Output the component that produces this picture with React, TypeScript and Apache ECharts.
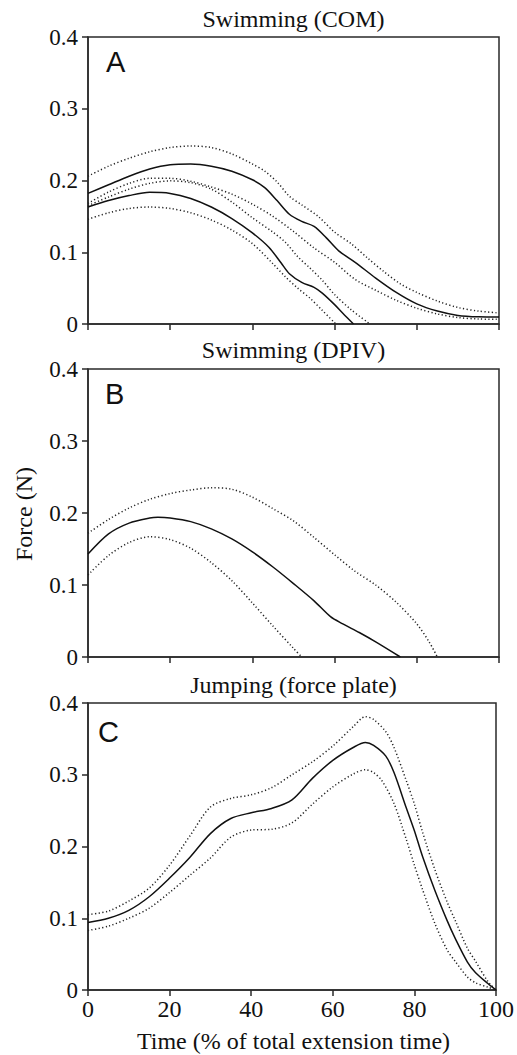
import React, { useEffect, useRef } from "react";
import * as echarts from "echarts";

// ---------- Panel A: Swimming (COM) ----------
const aMean1X = [0, 5, 10, 15, 20, 25, 30, 35, 40, 43, 46, 49, 52, 55, 58, 61, 65, 70, 75, 80, 85, 90, 95, 100];
const aMean1Y = [0.182, 0.194, 0.206, 0.216, 0.222, 0.223, 0.22, 0.213, 0.201, 0.19, 0.172, 0.153, 0.143, 0.136, 0.12, 0.102, 0.086, 0.064, 0.044, 0.028, 0.018, 0.012, 0.01, 0.0097];
const aUpper1X = [0, 5, 10, 15, 20, 25, 30, 35, 40, 43, 46, 49, 52, 56, 60, 64, 68, 72, 76, 80, 85, 90, 95, 100];
const aUpper1Y = [0.206, 0.22, 0.231, 0.24, 0.246, 0.248, 0.246, 0.237, 0.223, 0.213, 0.198, 0.178, 0.166, 0.15, 0.128, 0.112, 0.092, 0.073, 0.056, 0.044, 0.032, 0.023, 0.018, 0.0155];
const aLower1X = [0, 5, 10, 15, 20, 25, 30, 35, 40, 45, 50, 55, 60, 65, 70, 75, 80, 85, 90, 95, 100];
const aLower1Y = [0.168, 0.184, 0.196, 0.203, 0.203, 0.199, 0.191, 0.181, 0.167, 0.15, 0.129, 0.106, 0.086, 0.062, 0.047, 0.033, 0.022, 0.014, 0.009, 0.007, 0.0065];
const aMean2X = [0, 5, 10, 15, 20, 25, 30, 35, 40, 44, 47, 49, 52, 55, 57, 60, 62, 64.6];
const aMean2Y = [0.163, 0.172, 0.179, 0.1835, 0.182, 0.175, 0.163, 0.147, 0.127, 0.107, 0.085, 0.07, 0.058, 0.051, 0.043, 0.027, 0.015, 0];
const aUpper2X = [0, 5, 10, 15, 20, 25, 30, 35, 40, 45, 48, 51, 54, 57, 60, 64, 68.6];
const aUpper2Y = [0.165, 0.177, 0.188, 0.196, 0.1995, 0.197, 0.188, 0.17, 0.148, 0.128, 0.114, 0.094, 0.078, 0.061, 0.041, 0.02, 0];
const aLower2X = [0, 5, 10, 15, 20, 25, 30, 35, 40, 45, 48, 51, 54, 57, 60.3];
const aLower2Y = [0.146, 0.155, 0.161, 0.163, 0.161, 0.155, 0.145, 0.131, 0.112, 0.084, 0.066, 0.05, 0.036, 0.019, 0];

// ---------- Panel B: Swimming (DPIV) ----------
const bMeanX = [0, 5, 10, 15, 17, 20, 25, 30, 35, 40, 45, 50, 55, 59, 62, 66, 70, 76];
const bMeanY = [0.143, 0.171, 0.186, 0.193, 0.194, 0.193, 0.188, 0.178, 0.164, 0.146, 0.125, 0.102, 0.078, 0.056, 0.046, 0.034, 0.021, 0];
const bUpperX = [0, 5, 10, 15, 20, 25, 30, 35, 40, 45, 50, 55, 60, 65, 70, 75, 80, 83, 85];
const bUpperY = [0.172, 0.191, 0.207, 0.219, 0.227, 0.232, 0.235, 0.233, 0.222, 0.206, 0.189, 0.166, 0.142, 0.119, 0.1, 0.076, 0.046, 0.021, 0];
const bLowerX = [0, 5, 10, 15, 20, 25, 30, 35, 40, 45, 50, 52];
const bLowerY = [0.114, 0.141, 0.159, 0.167, 0.163, 0.151, 0.131, 0.106, 0.075, 0.043, 0.012, 0];

// ---------- Panel C: Jumping (force plate) ----------
const cMeanX = [0, 5, 10, 15, 20, 25, 30, 35, 40, 45, 50, 55, 60, 65, 68, 70, 73, 75, 78, 80, 82, 85, 88, 90, 93, 95, 98, 100];
const cMeanY = [0.094, 0.1, 0.111, 0.13, 0.156, 0.185, 0.218, 0.239, 0.247, 0.253, 0.265, 0.295, 0.32, 0.338, 0.345, 0.341, 0.326, 0.303, 0.254, 0.222, 0.186, 0.139, 0.097, 0.072, 0.039, 0.024, 0.009, 0];
const cUpperX = [0, 5, 10, 15, 20, 25, 30, 35, 40, 45, 50, 55, 60, 65, 68, 70, 73, 75, 78, 80, 82, 85, 88, 90, 93, 95, 98, 100];
const cUpperY = [0.105, 0.11, 0.124, 0.142, 0.174, 0.215, 0.255, 0.267, 0.272, 0.282, 0.3, 0.318, 0.34, 0.367, 0.381, 0.377, 0.36, 0.338, 0.292, 0.259, 0.22, 0.168, 0.123, 0.097, 0.058, 0.04, 0.012, 0];
const cLowerX = [0, 5, 10, 15, 20, 25, 30, 35, 40, 45, 50, 55, 60, 65, 68, 70, 72, 75, 78, 80, 82, 85, 88, 90, 93, 95, 98, 100];
const cLowerY = [0.083, 0.089, 0.1, 0.114, 0.136, 0.16, 0.184, 0.213, 0.223, 0.224, 0.233, 0.259, 0.283, 0.301, 0.307, 0.303, 0.292, 0.26, 0.21, 0.174, 0.14, 0.093, 0.056, 0.04, 0.018, 0.01, 0.004, 0];

const panelTitles = ["Swimming (COM)", "Swimming (DPIV)", "Jumping (force plate)"];
const panelLetters = ["A", "B", "C"];
const xTicks = { min: 0, max: 100, interval: 20 };
const yTicks = { min: 0, max: 0.4, interval: 0.1 };
const xName = "Time (% of total extension time)";
const yName = "Force (N)";

const SERIF = "Liberation Serif";
const SANS = "Liberation Sans";

const zip = (xs: number[], ys: number[]) => xs.map((x, i) => [x, ys[i]]);

export default function App() {
  const ref = useRef<HTMLDivElement>(null);
  useEffect(() => {
    if (!ref.current) return;
    const chart = echarts.init(ref.current, null, { renderer: "svg" });
    const grids = [
      { left: 88, right: 18, top: 37, height: 287 },
      { left: 88, right: 18, top: 369, height: 288 },
      { left: 88, right: 18, top: 703, height: 287 },
    ].map((g) => ({ ...g, show: true, borderColor: "#2a2a2a", borderWidth: 1.5, backgroundColor: "transparent" }));

    const axisLine = { show: true, lineStyle: { color: "#2a2a2a", width: 1.5 } };
    const axisTick = { show: true, inside: false, length: 6, lineStyle: { color: "#2a2a2a", width: 1.5 } };

    const xAxes = [0, 1, 2].map((i) => ({
      type: "value",
      gridIndex: i,
      ...xTicks,
      axisLine,
      axisTick,
      splitLine: { show: false },
      axisLabel: { show: i === 2, fontFamily: SERIF, fontSize: 24, color: "#111", margin: 7 },
    }));
    const yAxes = [0, 1, 2].map((i) => ({
      type: "value",
      gridIndex: i,
      ...yTicks,
      axisLine,
      axisTick,
      splitLine: { show: false },
      axisLabel: { show: true, fontFamily: SERIF, fontSize: 23, color: "#111", margin: 10 },
    }));

    const solid = { color: "#111", width: 1.5, type: "solid" };
    const dotted = { color: "#222", width: 1.5, type: [1.2, 2.4] };
    const mk = (xs: number[], ys: number[], idx: number, dot: boolean) => ({
      type: "line",
      xAxisIndex: idx,
      yAxisIndex: idx,
      data: zip(xs, ys),
      symbol: "none",
      smooth: 0.3,
      lineStyle: dot ? dotted : solid,
      silent: true,
    });

    const series = [
      mk(aUpper1X, aUpper1Y, 0, true),
      mk(aMean1X, aMean1Y, 0, false),
      mk(aLower1X, aLower1Y, 0, true),
      mk(aUpper2X, aUpper2Y, 0, true),
      mk(aMean2X, aMean2Y, 0, false),
      mk(aLower2X, aLower2Y, 0, true),
      mk(bUpperX, bUpperY, 1, true),
      mk(bMeanX, bMeanY, 1, false),
      mk(bLowerX, bLowerY, 1, true),
      mk(cUpperX, cUpperY, 2, true),
      mk(cMeanX, cMeanY, 2, false),
      mk(cLowerX, cLowerY, 2, true),
    ];

    const titleY = [19, 350, 685];
    const letterPos = [
      [106, 62],
      [105, 394],
      [98, 732],
    ];
    const txt = (text: string, x: number, y: number, family: string, size: number, align: string, rotation = 0) => ({
      type: "text",
      x,
      y,
      rotation,
      style: { text, fontFamily: family, fontSize: size, fill: "#111", textAlign: align, textVerticalAlign: "middle" },
    });
    const graphic: any[] = [];
    panelTitles.forEach((t, i) => {
      graphic.push(txt(t, 293.5, titleY[i], SERIF, 24, "center"));
      graphic.push(txt(panelLetters[i], letterPos[i][0], letterPos[i][1], SANS, 29, "left"));
    });
    graphic.push(txt(xName, 293.5, 1041, SERIF, 24, "center"));
    graphic.push(txt(yName, 24, 514, SERIF, 24, "center", Math.PI / 2));

    chart.setOption({
      animation: false,
      backgroundColor: "#fff",
      textStyle: { fontFamily: SERIF },
      grid: grids,
      xAxis: xAxes,
      yAxis: yAxes,
      series,
      graphic,
    });
    return () => chart.dispose();
  }, []);
  return <div ref={ref} style={{ position: "absolute", left: 0, top: 0, width: 517, height: 1055 }} />;
}
